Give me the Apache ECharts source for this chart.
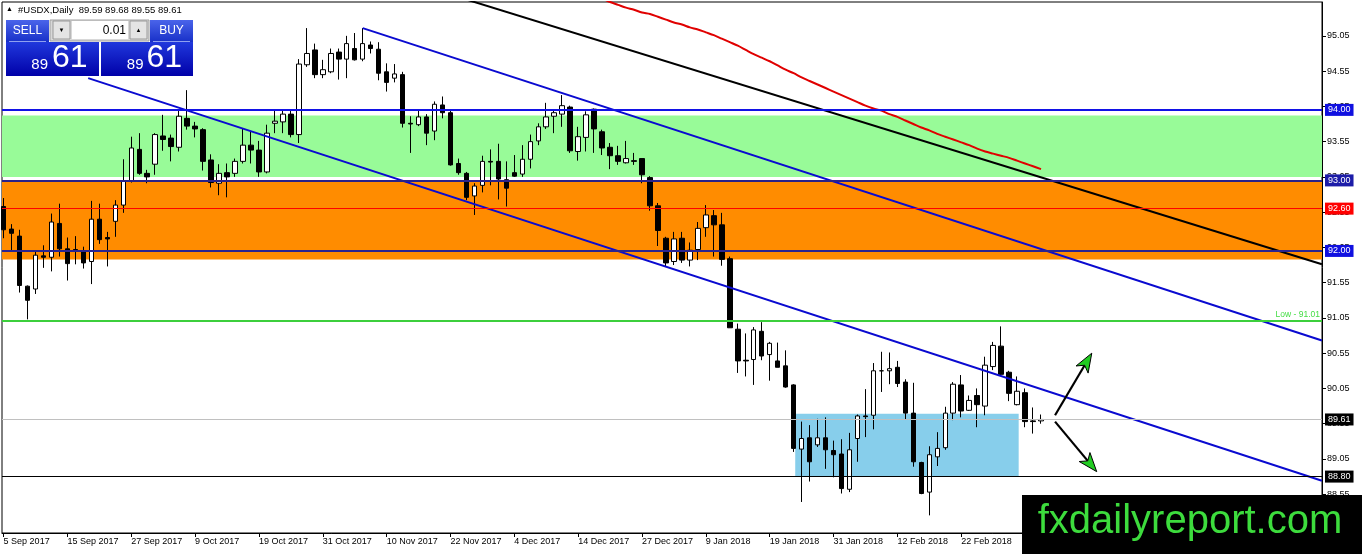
<!DOCTYPE html>
<html><head><meta charset="utf-8">
<script src="https://cdn.jsdelivr.net/npm/echarts@6/dist/echarts.min.js"></script>
<style>html,body{margin:0;padding:0;background:#fff;}#c{width:1362px;height:554px;}</style>
</head><body><div id="c"></div>
<script>
// ---- data (bar index 0 = 5 Sep 2017, one bar per trading day) ----
const opens  = [92.63,92.31,92.21,91.50,91.46,91.93,91.91,92.39,92.03,92.02,92.00,91.85,92.45,92.19,92.42,92.65,92.99,93.44,93.10,93.23,93.63,93.60,93.47,93.88,93.77,93.72,93.29,92.96,93.11,93.10,93.27,93.50,93.43,93.12,93.81,93.83,93.94,93.65,94.64,94.85,94.50,94.54,94.82,94.72,94.87,94.72,94.92,94.86,94.54,94.45,94.50,93.81,93.79,93.90,93.70,94.07,93.96,93.24,93.10,92.78,92.93,93.27,93.27,93.01,93.11,93.09,93.30,93.56,93.76,93.91,93.94,94.04,93.41,93.61,94.01,93.69,93.47,93.35,93.25,93.28,93.31,93.04,92.64,92.18,91.85,92.18,91.87,92.02,92.33,92.50,92.37,91.89,90.89,90.45,90.46,90.86,90.53,90.44,90.37,90.10,89.19,89.35,89.25,89.35,89.17,89.12,88.62,89.34,89.66,89.67,90.30,90.30,90.35,90.14,89.70,89.00,88.58,89.08,89.21,89.70,90.10,89.74,89.95,89.80,90.36,90.65,90.28,89.82,89.99,89.59,89.59];
const highs  = [92.75,92.38,92.30,91.51,92.00,92.08,92.53,92.67,92.19,92.21,92.06,92.71,92.67,92.27,92.72,93.30,93.62,93.67,93.15,93.67,93.93,93.65,94.00,94.28,93.83,93.74,93.37,93.23,93.24,93.31,93.74,93.69,93.56,93.79,94.00,94.00,94.00,94.72,95.16,94.94,94.71,94.87,94.87,95.05,95.09,95.16,94.97,94.96,94.66,94.65,94.54,93.91,94.00,93.94,94.12,94.19,94.00,93.31,93.12,92.96,93.35,93.44,93.52,93.27,93.36,93.50,93.65,93.81,94.10,94.00,94.21,94.06,93.76,93.98,94.02,93.72,93.53,93.49,93.56,93.39,93.31,93.06,92.68,92.20,92.27,92.27,92.12,92.41,92.65,92.58,92.54,91.92,90.97,90.83,90.92,90.99,90.71,90.70,90.59,90.11,89.58,89.53,89.62,89.64,89.31,89.33,89.42,89.68,90.04,90.41,90.57,90.56,90.44,90.18,90.13,89.01,89.23,89.43,89.79,90.14,90.24,89.95,90.05,90.50,90.71,90.93,90.30,90.22,90.05,89.78,89.68];
const lows   = [92.18,91.99,91.41,91.03,91.39,91.76,91.71,91.92,91.58,91.81,91.75,91.53,92.10,91.78,92.20,92.54,92.97,93.08,92.96,93.08,93.42,93.27,93.41,93.72,93.61,93.14,92.90,92.79,92.76,93.05,93.24,93.24,93.05,93.10,93.67,93.67,93.61,93.53,94.61,94.45,94.45,94.52,94.43,94.45,94.70,94.69,94.80,94.42,94.26,94.39,93.75,93.39,93.77,93.50,93.57,93.88,93.21,93.08,92.72,92.51,92.83,92.93,92.73,92.63,93.05,93.05,93.17,93.50,93.73,93.67,93.76,93.39,93.28,93.41,93.39,93.36,93.16,93.22,93.24,93.22,92.96,92.57,92.07,91.78,91.80,91.83,91.78,91.87,92.20,91.92,91.79,90.91,90.27,90.22,90.10,90.45,90.16,90.35,90.06,89.15,88.44,88.73,89.22,88.91,88.79,88.56,88.58,89.01,89.36,89.47,90.00,90.11,90.07,89.61,88.94,88.55,88.25,88.95,89.18,89.60,89.64,89.73,89.50,89.67,90.31,90.24,89.87,89.81,89.50,89.41,89.55];
const closes = [92.30,92.25,91.51,91.30,91.94,91.91,92.41,92.03,91.82,92.00,91.83,92.45,92.16,92.17,92.65,92.99,93.46,93.10,93.05,93.65,93.58,93.48,93.91,93.77,93.73,93.27,92.97,93.10,93.05,93.27,93.50,93.43,93.12,93.67,93.84,93.94,93.65,94.65,94.80,94.50,94.57,94.80,94.72,94.94,94.71,94.94,94.87,94.52,94.39,94.51,93.81,93.80,93.90,93.67,94.08,93.96,93.22,93.11,92.76,92.92,93.27,93.26,93.02,92.89,93.06,93.30,93.55,93.76,93.90,93.96,94.06,93.42,93.62,93.93,93.73,93.46,93.35,93.27,93.31,93.27,93.08,92.64,92.29,91.83,92.17,91.87,92.01,92.32,92.51,92.37,91.88,90.91,90.44,90.44,90.88,90.51,90.69,90.35,90.07,89.20,89.34,89.01,89.35,89.18,89.11,88.63,89.18,89.66,89.65,90.30,90.30,90.33,90.12,89.70,89.01,88.56,89.11,89.20,89.70,90.11,89.73,89.88,89.82,90.38,90.66,90.25,89.98,90.01,89.58,89.58,89.61];
const tickLabels = ['5 Sep 2017','15 Sep 2017','27 Sep 2017','9 Oct 2017','19 Oct 2017','31 Oct 2017','10 Nov 2017','22 Nov 2017','4 Dec 2017','14 Dec 2017','27 Dec 2017','9 Jan 2018','19 Jan 2018','31 Jan 2018','12 Feb 2018','22 Feb 2018'];
const barsPerLabel = 8;
const yTicks = [88.55,89.05,89.55,90.05,90.55,91.05,91.55,92.05,92.55,93.05,93.55,94.05,94.55,95.05];
const maStart = 75;
const maValues = [95.58,95.53,95.49,95.45,95.42,95.38,95.36,95.32,95.28,95.24,95.21,95.17,95.14,95.10,95.06,95.01,94.96,94.91,94.85,94.79,94.74,94.69,94.63,94.57,94.52,94.46,94.41,94.36,94.31,94.26,94.21,94.16,94.11,94.06,94.02,93.99,93.94,93.90,93.85,93.80,93.75,93.71,93.66,93.62,93.58,93.54,93.50,93.45,93.41,93.38,93.35,93.32,93.28,93.24,93.20,93.16];
const trendLower = [[10.6, 94.45], [165.2, 88.74]];
const trendUpper = [[45.0, 95.16], [165.2, 90.73]];
const trendBlack = [[57.0, 95.60], [165.2, 91.81]];
const greenZone = [93.92, 93.05];
const orangeZone = [92.98, 91.88];
const blueBox = [[99.2, 89.69], [127.2, 88.80]];
const arrowUp = [131.76, 89.67, 136.36, 90.55];
const arrowDown = [131.76, 89.58, 136.98, 88.87];
const bidPrice = 89.61;
const lowLevel = 91.01;

const FONT = '"Liberation Sans", Arial, sans-serif';
const chart = echarts.init(document.getElementById('c'));
const candleData = opens.map((o, i) => [i, o, closes[i], lows[i], highs[i]]);
const xTickVals = tickLabels.map((_, k) => k * barsPerLabel);
const maData = maValues.map((v, k) => [maStart + k, v]);

function hLine(y, color, width, labelBg, labelText) {
  return {
    yAxis: y,
    lineStyle: { color: color, width: width, type: 'solid' },
    label: labelBg ? {
      show: true, position: 'end', distance: 3, formatter: labelText,
      backgroundColor: labelBg, color: '#fff', padding: [2, 3, 1, 3],
      fontSize: 9, fontFamily: FONT
    } : { show: false }
  };
}

const option = {
  animation: false,
  backgroundColor: '#fff',
  grid: { left: 2, right: 40, top: 2, bottom: 21, show: true, borderColor: '#000', borderWidth: 1, backgroundColor: '#fff' },
  xAxis: {
    type: 'value', min: -0.2, max: 165.21, splitLine: { show: false },
    axisLine: { show: true, onZero: false, lineStyle: { color: '#000', width: 1 } },
    axisTick: { show: true, customValues: xTickVals, length: 4, lineStyle: { color: '#000' } },
    axisLabel: {
      customValues: xTickVals, align: 'left', margin: 4, fontSize: 9, color: '#000', fontFamily: FONT,
      formatter: v => tickLabels[Math.round(v / barsPerLabel)] || ''
    }
  },
  yAxis: {
    type: 'value', position: 'right', min: 88.0, max: 95.53, scale: true,
    splitLine: { show: false },
    axisLine: { show: true, onZero: false, lineStyle: { color: '#000', width: 1 } },
    axisTick: { show: true, customValues: yTicks, length: 4, lineStyle: { color: '#000' } },
    axisLabel: { customValues: yTicks, margin: 5, fontSize: 9, color: '#000', fontFamily: FONT, formatter: v => v.toFixed(2) }
  },
  series: [
    { // bid line
      type: 'line', z: 1, data: [], silent: true,
      markLine: { silent: true, symbol: 'none', animation: false,
        data: [hLine(bidPrice, '#c0c0c0', 1, '#000', bidPrice.toFixed(2))] }
    },
    { // zones
      type: 'line', z: 1.5, data: [], silent: true,
      markArea: { silent: true, itemStyle: { opacity: 1 },
        data: [
          [{ yAxis: greenZone[0], itemStyle: { color: '#98FB98', opacity: 1 } }, { yAxis: greenZone[1] }],
          [{ yAxis: orangeZone[0], itemStyle: { color: '#FF8C00', opacity: 1 } }, { yAxis: orangeZone[1] }],
          [{ coord: blueBox[0], itemStyle: { color: '#87CEEB', opacity: 1 } }, { coord: blueBox[1] }]
        ] }
    },
    {
      type: 'candlestick', z: 2, data: candleData, encode: { x: 0, y: [1, 2, 3, 4] },
      barWidth: 5, large: false,
      itemStyle: { color: '#fff', color0: '#000', borderColor: '#000', borderColor0: '#000', borderColorDoji: '#000', borderWidth: 1 }
    },
    { // horizontal levels
      type: 'line', z: 3, data: [], silent: true,
      markLine: { silent: true, symbol: 'none', animation: false,
        data: [
          hLine(94.00, '#1212e6', 2, '#1010e0', '94.00'),
          hLine(93.00, '#2a2288', 2, '#1c1ca8', '93.00'),
          hLine(92.60, '#ff0000', 1, '#ff0000', '92.60'),
          hLine(92.00, '#2a2490', 2, '#1010e0', '92.00'),
          { yAxis: lowLevel, lineStyle: { color: '#3ccf3c', width: 2, type: 'solid' },
            label: { show: true, position: 'insideEndTop', distance: 2, formatter: 'Low - ' + lowLevel.toFixed(2), color: '#44dd44', fontSize: 8.5, fontFamily: FONT } },
          hLine(88.80, '#000', 1, '#000', '88.80')
        ] }
    },
    { type: 'line', z: 4, data: trendLower, showSymbol: false, silent: true, lineStyle: { color: '#0a0ad0', width: 2 } },
    { type: 'line', z: 4, data: trendUpper, showSymbol: false, silent: true, lineStyle: { color: '#0a0ad0', width: 2 } },
    { type: 'line', z: 4, data: trendBlack, showSymbol: false, silent: true, lineStyle: { color: '#000', width: 2 } },
    { type: 'line', z: 4, data: maData, showSymbol: false, silent: true, smooth: 0.3, lineStyle: { color: '#e00000', width: 2 } },
    {
      type: 'custom', z: 5, silent: true, data: [arrowUp, arrowDown], encode: { x: [0, 2], y: [1, 3] },
      renderItem: function (params, api) {
        const p1 = api.coord([api.value(0), api.value(1)]);
        const p2 = api.coord([api.value(2), api.value(3)]);
        const dx = p2[0] - p1[0], dy = p2[1] - p1[1];
        const len = Math.hypot(dx, dy), ux = dx / len, uy = dy / len;
        const hl = 19, hw = 7;
        const bx = p2[0] - ux * hl, by = p2[1] - uy * hl;
        const nx = -uy, ny = ux;
        return { type: 'group', children: [
          { type: 'line', shape: { x1: p1[0], y1: p1[1], x2: bx + ux * 5, y2: by + uy * 5 }, style: { stroke: '#000', lineWidth: 2.2 } },
          { type: 'polygon', shape: { points: [[p2[0], p2[1]], [bx + nx * hw, by + ny * hw], [bx + ux * 5, by + uy * 5], [bx - nx * hw, by - ny * hw]] },
            style: { fill: '#22cc22', stroke: '#000', lineWidth: 1 } }
        ] };
      }
    }
  ],
  graphic: [
    { type: 'text', left: 6, top: 6, z: 100, style: { text: '\u25B2', fontSize: 7, fill: '#000', fontFamily: FONT } },
    { type: 'text', left: 18, top: 5, z: 100, style: { text: '#USDX,Daily  89.59 89.68 89.55 89.61', fontSize: 9.5, fill: '#000', fontFamily: FONT } },
    // one-click panel
    { type: 'rect', z: 100, shape: { x: 6, y: 20, width: 43, height: 22 },
      style: { fill: new echarts.graphic.LinearGradient(0, 0, 0, 1, [{ offset: 0, color: '#4a64ea' }, { offset: 1, color: '#1830c8' }]) } },
    { type: 'rect', z: 100, shape: { x: 150, y: 20, width: 43, height: 22 },
      style: { fill: new echarts.graphic.LinearGradient(0, 0, 0, 1, [{ offset: 0, color: '#4a64ea' }, { offset: 1, color: '#1830c8' }]) } },
    { type: 'rect', z: 100, shape: { x: 50, y: 20, width: 99, height: 21 }, style: { fill: '#d8d8d8', stroke: '#a0a0a0', lineWidth: 1 } },
    { type: 'rect', z: 101, shape: { x: 53, y: 21, width: 17, height: 18 }, style: { fill: '#e4e4e4', stroke: '#9a9a9a', lineWidth: 1 } },
    { type: 'rect', z: 101, shape: { x: 72, y: 21, width: 56, height: 18 }, style: { fill: '#fff' } },
    { type: 'rect', z: 101, shape: { x: 130, y: 21, width: 17, height: 18 }, style: { fill: '#e4e4e4', stroke: '#9a9a9a', lineWidth: 1 } },
    { type: 'text', z: 102, x: 61.5, y: 30, style: { text: '\u25BC', fontSize: 6, fill: '#000', align: 'center', verticalAlign: 'middle', fontFamily: FONT } },
    { type: 'text', z: 102, x: 138.5, y: 30, style: { text: '\u25B2', fontSize: 6, fill: '#000', align: 'center', verticalAlign: 'middle', fontFamily: FONT } },
    { type: 'text', z: 102, x: 126, y: 31, style: { text: '0.01', fontSize: 12, fill: '#000', align: 'right', verticalAlign: 'middle', fontFamily: FONT } },
    { type: 'text', z: 102, x: 27.5, y: 31, style: { text: 'SELL', fontSize: 12, fill: '#fff', align: 'center', verticalAlign: 'middle', fontFamily: FONT } },
    { type: 'text', z: 102, x: 171.5, y: 31, style: { text: 'BUY', fontSize: 12, fill: '#fff', align: 'center', verticalAlign: 'middle', fontFamily: FONT } },
    { type: 'rect', z: 100, shape: { x: 6, y: 42, width: 93, height: 34 },
      style: { fill: new echarts.graphic.LinearGradient(0, 0, 0, 1, [{ offset: 0, color: '#2038dc' }, { offset: 1, color: '#0000a8' }]) } },
    { type: 'rect', z: 100, shape: { x: 101, y: 42, width: 92, height: 34 },
      style: { fill: new echarts.graphic.LinearGradient(0, 0, 0, 1, [{ offset: 0, color: '#2038dc' }, { offset: 1, color: '#0000a8' }]) } },
    { type: 'rect', z: 101, shape: { x: 9, y: 41, width: 37, height: 1 }, style: { fill: '#8fa0f0' } },
    { type: 'rect', z: 101, shape: { x: 153, y: 41, width: 37, height: 1 }, style: { fill: '#8fa0f0' } },
    { type: 'text', z: 102, x: 48, y: 64.5, style: { text: '89', fontSize: 15, fill: '#fff', align: 'right', verticalAlign: 'middle', fontFamily: FONT } },
    { type: 'text', z: 102, x: 52, y: 58, style: { text: '61', fontSize: 32, fill: '#fff', align: 'left', verticalAlign: 'middle', fontFamily: FONT } },
    { type: 'text', z: 102, x: 143.5, y: 64.5, style: { text: '89', fontSize: 15, fill: '#fff', align: 'right', verticalAlign: 'middle', fontFamily: FONT } },
    { type: 'text', z: 102, x: 146.5, y: 58, style: { text: '61', fontSize: 32, fill: '#fff', align: 'left', verticalAlign: 'middle', fontFamily: FONT } },
    // watermark
    { type: 'rect', z: 110, shape: { x: 1022, y: 495, width: 340, height: 59 }, style: { fill: '#000' } },
    { type: 'text', z: 111, x: 1190, y: 522, style: { text: 'fxdailyreport.com', fontSize: 40, fill: '#3ddc3d', align: 'center', verticalAlign: 'middle', fontFamily: FONT } }
  ]
};
chart.setOption(option);
</script>
</body></html>
